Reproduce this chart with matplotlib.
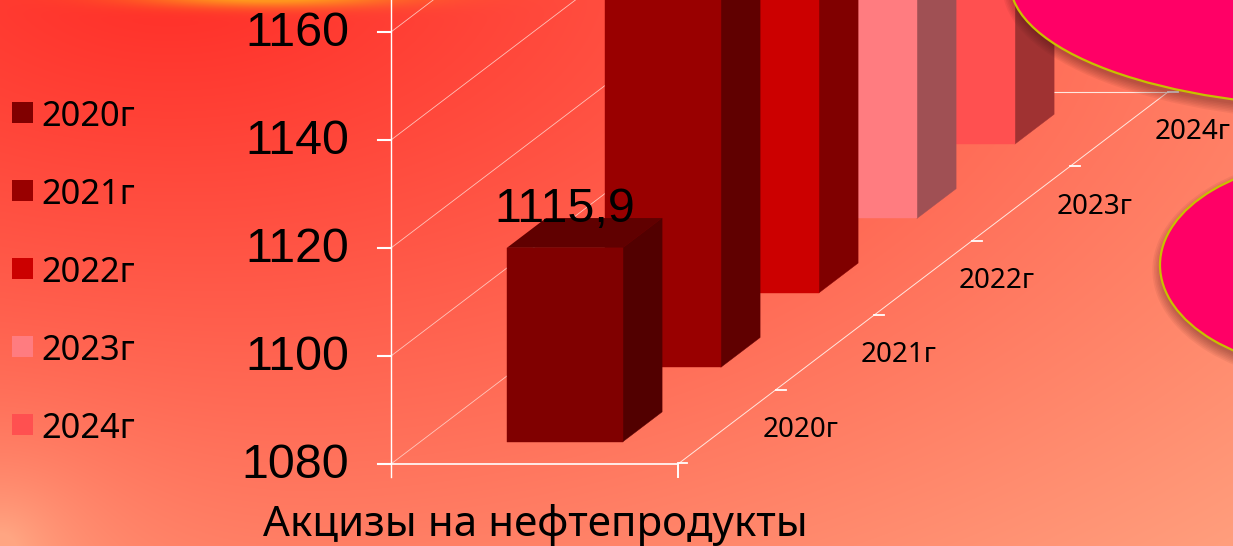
import numpy as np
import matplotlib
matplotlib.use("Agg")
import matplotlib.pyplot as plt
from matplotlib.patches import Ellipse, Polygon, Rectangle

years = ["2020г", "2021г", "2022г", "2023г", "2024г"]
values = [1115.9, 1175, 1185, 1190, 1200]  # only the first is readable, the rest run off the top
y_ticks = [1080, 1100, 1120, 1140, 1160]
front_cols = ["#800000", "#990000", "#CC0000", "#FF7C80", "#FF5050"]
side_cols = ["#520000", "#600000", "#800000", "#A05054", "#A03232"]
top_cols = ["#600000", "#730000", "#990000", "#BF5D60", "#BF3C3C"]
category = "Акцизы на нефтепродукты"
value_label = "1115,9"

W, H = 1233, 546
X0, Y0 = 391, 464     # front left floor corner
CAT_W = 287
DX, DY = 98.0, 74.4   # one depth step
PX_PER_UNIT = 5.4
BAR_W = 116
BASE = y_ticks[0]
SANS = "Noto Sans"
ARIAL = "Liberation Sans"


def proj(x, depth, v=BASE):
    return X0 + x + depth * DX, Y0 - (v - BASE) * PX_PER_UNIT - depth * DY


def background():
    yy, xx = np.mgrid[0:H, 0:W].astype(float)
    t = np.hypot((xx - 170) / 1600, (yy + 30) / 860)
    t = t + 0.4 * np.exp(-np.hypot(xx, H - yy) / 80)
    t = np.clip(t, 0, 1)[..., None]
    red = np.array([255, 44, 38.0])
    sal = np.array([255, 165, 130.0])
    img = red + (sal - red) * t
    glow = np.exp(-(((xx - 270) / 130) ** 2 + ((yy + 4) / 11) ** 2))[..., None]
    img = img + (np.array([255, 150, 30.0]) - img) * np.clip(glow * 1.2, 0, 1)
    return img / 255


def blob(ax, cx, cy, a, b):
    for k in range(7):
        ax.add_patch(Ellipse((cx + 2, cy + 5), 2 * a + 2 * k * 1.6, 2 * b + 2 * k * 1.6,
                             fc="#401010", ec="none", alpha=0.06, zorder=20))
    ax.add_patch(Ellipse((cx, cy), 2 * a, 2 * b, fc="#FF0066", ec="#C8C000", lw=1.6, zorder=21))


fig = plt.figure(figsize=(W / 100, H / 100), dpi=100)
ax = fig.add_axes([0, 0, 1, 1])
ax.imshow(background(), extent=(0, W, H, 0), aspect="auto", zorder=0)
ax.set_xlim(0, W)
ax.set_ylim(H, 0)
ax.axis("off")

# walls and gridlines
n = len(years)
for v in y_ticks:
    x1, y1 = proj(0, 0, v)
    x2, y2 = proj(0, n, v)
    ax.plot([x1, x2], [y1, y2], color="#FFD8D0", lw=0.6, alpha=0.85, zorder=1)
    ax.plot([x2, proj(CAT_W, n)[0]], [y2, y2], color="#FFE8E0", lw=0.8, zorder=1)
    ax.plot([X0 - 13, X0], [y1, y1], color="white", lw=1.5, zorder=2)
    ax.text(349, y1 + 2, str(v), ha="right", va="center", fontsize=34.8, family=ARIAL, color="black", zorder=6)
ax.plot([X0, X0], [0, Y0 + 13], color="white", lw=1.0, zorder=2)
ax.plot([X0, X0 + CAT_W], [Y0, Y0], color="white", lw=1.2, zorder=2)
ax.plot([X0 + CAT_W] * 2, [Y0, Y0 + 13], color="white", lw=1.4, zorder=2)
x_end, y_end = proj(CAT_W, n)
ax.plot([X0 + CAT_W, x_end], [Y0, y_end], color="#FFE8E0", lw=0.7, zorder=2)

for i, year in enumerate(years):
    tx, ty = proj(CAT_W, i + 1)
    ax.plot([tx, tx + 10], [ty, ty], color="white", lw=1.3, zorder=2)
    lx, ly = proj(CAT_W, i + 0.5)
    ax.text(lx + 74, ly + 3, year, ha="center", va="center", fontsize=20, family=SANS,
            color="black", zorder=24)
ax.plot([X0 + CAT_W, X0 + CAT_W + 9], [Y0 - 1, Y0 - 1], color="white", lw=1.3, zorder=2)

# bars, back to front
for i in range(n - 1, -1, -1):
    v = values[i]
    x0 = (CAT_W - BAR_W) / 2 + 1
    d0, d1 = i + 0.3, i + 0.7
    z = 3 + (n - i)
    ax.add_patch(Polygon([proj(x0 + BAR_W, d0), proj(x0 + BAR_W, d1), proj(x0 + BAR_W, d1, v), proj(x0 + BAR_W, d0, v)],
                         fc=side_cols[i], ec=side_cols[i], lw=0.3, zorder=z))
    ax.add_patch(Polygon([proj(x0, d0, v), proj(x0 + BAR_W, d0, v), proj(x0 + BAR_W, d1, v), proj(x0, d1, v)],
                         fc=top_cols[i], ec="none", zorder=z))
    ax.add_patch(Polygon([proj(x0, d0), proj(x0 + BAR_W, d0), proj(x0 + BAR_W, d0, v), proj(x0, d0, v)],
                         fc=front_cols[i], ec=front_cols[i], lw=0.3, zorder=z))

ax.text(565, 210, value_label, ha="center", va="center", fontsize=34.8, family=ARIAL, color="black", zorder=12)

# legend
for i, year in enumerate(years):
    yc = 112.5 + i * 78
    ax.add_patch(Rectangle((12, yc - 10.5), 21, 21, fc=front_cols[i], ec="none", zorder=6))
    ax.text(41, yc + 5, year, ha="left", va="center", fontsize=24.8, family=SANS, color="black", zorder=6)

ax.text(535, 525, category, ha="center", va="center", fontsize=30.3, family=SANS, color="black", zorder=6)

blob(ax, 1350, -18, 340, 125)
blob(ax, 1340, 265, 180, 106)

fig.savefig("out.png", dpi=100)
